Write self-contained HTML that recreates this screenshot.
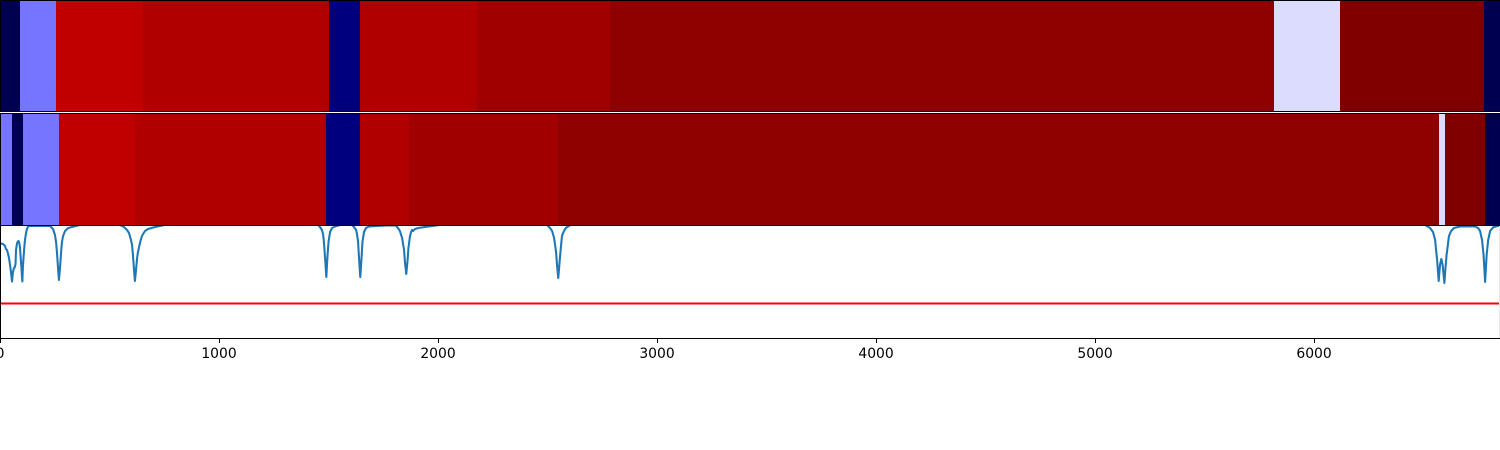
<!DOCTYPE html>
<html>
<head>
<meta charset="utf-8">
<title>Spectrum heatmaps</title>
<style>
html,body{margin:0;padding:0;background:#fff;width:1500px;height:450px;overflow:hidden}
svg{display:block}
text{font-family:"DejaVu Sans",sans-serif;font-size:13.9px;fill:#000}
</style>
</head>
<body>
<svg id="chart" width="1500" height="450" viewBox="0 0 1500 450" xmlns="http://www.w3.org/2000/svg">
<defs><clipPath id="plot-clip"><rect x="0" y="226" width="1500" height="113"></rect></clipPath></defs>
</svg>
<script>
const xTicks = [0, 1000, 2000, 3000, 4000, 5000, 6000];
const topEdges = [0, 91, 256, 653, 1502, 1644, 2178, 2785, 5817, 6119, 6776, 6849];
const topValues = [0.005, 0.365, 0.873, 0.904, 0.07, 0.904, 0.936, 0.969, 0.466, 0.998, 0.005];
const midEdges = [0, 55, 105, 269, 616, 1489, 1644, 1868, 2548, 6571, 6598, 6781, 6849];
const midValues = [0.365, 0.005, 0.365, 0.873, 0.904, 0.07, 0.904, 0.936, 0.969, 0.466, 0.998, 0.005];
const curveX = [0,14,23,27,32,37,41,46,50,55,59,64,67,71,73,78,84,87,91,96,102,105,110,114,119,123,128,137,228,242,251,256,260,265,269,274,279,283,288,297,311,329,365,548,566,580,589,598,603,607,612,616,621,626,630,639,648,662,676,708,753,1452,1461,1470,1475,1479,1484,1490,1495,1500,1507,1516,1530,1553,1607,1616,1626,1630,1635,1639,1645,1651,1655,1662,1671,1685,1804,1817,1826,1836,1845,1849,1855,1861,1865,1872,1877,1881,1886,1895,1909,1941,2009,2498,2511,2521,2530,2539,2543,2549,2555,2562,2566,2575,2584,2603,6507,6530,6543,6553,6557,6562,6569,6575,6581,6587,6595,6600,6605,6612,6616,6626,6639,6667,6735,6749,6758,6767,6774,6781,6788,6795,6804,6817,6836,6849];
const curveY = [94.7,94,92,89,88,84,80,73,66,56.5,66,70,70.5,74,88,95,97,96,91,76,56.5,73,88,98,105,109,111.5,112,112,109,103,96,86,70,58,70,86,96,102,107,110,111,113,113,111,108,105,98,93,83,68,57,68,80,86,95,102,107,109,111,113,113,111,108,104,96,81,61,81,96,106,110,111.5,113,113,111,108,104,96,81,61,81,96,106,110,111.5,113,110,107,100,88,76,64,78,90,102,106,108,107,109,110,111,113,113,110,107,100,86,74,60,76,93,102,107,110,113,113,110,106,98,88,78,57,73,79,73,55,70,83,95,102,107,110,111.5,111.5,110,107,98,83,56,83,98,107,110.5,112,112];
const thresholdValue = 34.5;
const svgNS = 'http://www.w3.org/2000/svg';
const chart = document.getElementById('chart');
const xMax = 6849;
const yMax = 113;
const plotBottom = 338;
function sx(v){ return v / xMax * 1500; }
function sy(v){ return plotBottom - v / yMax * 113; }
function lerp(a,b,t){ return Math.round(a + (b - a) * t); }
function seismic(v){
  let c;
  if (v < 0.25){ const t = v / 0.25; c = [0, 0, lerp(76, 255, t)]; }
  else if (v < 0.5){ const t = (v - 0.25) / 0.25; c = [lerp(0,255,t), lerp(0,255,t), 255]; }
  else if (v < 0.75){ const t = (v - 0.5) / 0.25; c = [255, lerp(255,0,t), lerp(255,0,t)]; }
  else { const t = (v - 0.75) / 0.25; c = [lerp(255,127,t), 0, 0]; }
  return 'rgb(' + c.join(',') + ')';
}
function make(tag, attrs){
  const el = document.createElementNS(svgNS, tag);
  for (const k in attrs) el.setAttribute(k, attrs[k]);
  return el;
}
function drawHeat(edges, values, y0, h, label){
  const g = make('g', {});
  
  
  values.forEach(function(v, i){
    const x0 = Math.round(sx(edges[i]));
    const x1 = Math.round(sx(edges[i + 1]));
    const r = make('rect', {x: x0, y: y0, width: x1 - x0, height: h, fill: seismic(v)});
    
    
    g.appendChild(r);
  });
  const frame = make('path', {d: 'M0.5 ' + (y0 + h - 0.5) + 'V' + (y0 + 0.5) + 'H1500M0 ' + (y0 + h - 0.5) + 'H1500', fill: 'none', stroke: '#000', 'stroke-width': 1});
  
  
  g.appendChild(frame);
  chart.appendChild(g);
}
drawHeat(topEdges, topValues, 0, 112, 'top-heatmap');
drawHeat(midEdges, midValues, 113, 113, 'middle-heatmap');

const threshold = make('line', {x1: 0, x2: 1500, y1: sy(thresholdValue), y2: sy(thresholdValue), stroke: '#ff0000', 'stroke-width': 2.08});


chart.appendChild(threshold);

const pts = curveX.map(function(x, i){ return sx(x).toFixed(2) + ',' + sy(curveY[i]).toFixed(2); }).join(' ');
const curve = make('polyline', {points: pts, fill: 'none', stroke: '#1f77b4', 'stroke-width': 2.08, 'stroke-linejoin': 'round', 'clip-path': 'url(#plot-clip)'});


chart.appendChild(curve);

const rightSpine = make('line', {x1: 1499.5, x2: 1499.5, y1: 226, y2: 338, stroke: '#e8e8e8', 'stroke-width': 1});


chart.appendChild(rightSpine);

const spine = make('path', {d: 'M0.5 226V338.5H1500', fill: 'none', stroke: '#000', 'stroke-width': 1});


chart.appendChild(spine);

xTicks.forEach(function(t){
  const px = Math.round(sx(t)) + 0.5;
  const tick = make('line', {x1: px, x2: px, y1: 339, y2: 343, stroke: '#000', 'stroke-width': 1});
  
  
  chart.appendChild(tick);
  const label = make('text', {x: sx(t), y: 358, 'text-anchor': 'middle'});
  
  
  label.textContent = String(t);
  chart.appendChild(label);
});
</script>
</body>
</html>
